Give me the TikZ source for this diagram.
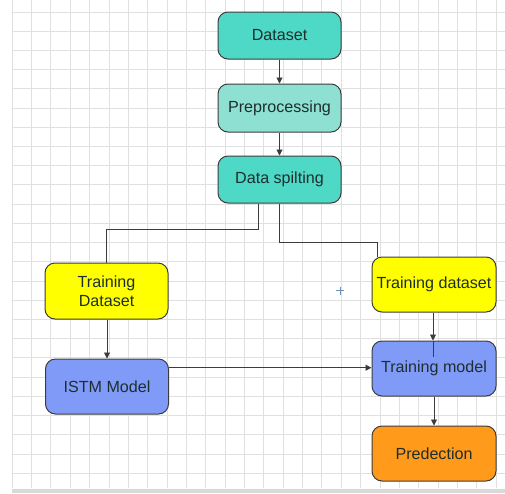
\documentclass[tikz,border=0pt]{standalone}
\usepackage{fontspec}
\setmainfont{Liberation Sans}
\usetikzlibrary{arrows.meta}
\definecolor{teal1}{HTML}{4ED8C6}
\definecolor{teal2}{HTML}{8EE1D2}
\definecolor{yel}{HTML}{FFFF00}
\definecolor{blu}{HTML}{7F9BF7}
\definecolor{org}{HTML}{FF9A1A}
\definecolor{gridc}{HTML}{E0E0E0}
\definecolor{edge}{HTML}{3C3C3C}
\definecolor{txt}{HTML}{1E2E2E}
\tikzset{
  box/.style={draw=edge, line width=1pt, rounded corners=10pt, minimum width=123pt,
    align=center, font=\fontsize{16.1}{18.5}\selectfont, text=txt, inner sep=2pt},
  conn/.style={draw=edge, line width=0.9pt},
  arr/.style={conn, -{Triangle[length=6pt,width=6pt]}}
}
\begin{document}
\begin{tikzpicture}[x=1pt,y=-1pt]
\useasboundingbox (0,0) rectangle (505,493);
% background grid
\fill[white] (0,0) rectangle (505,493);
\foreach \i in {0,...,25} {\draw[gridc, line width=0.6pt] ({12+19.36*\i},0) -- ({12+19.36*\i},488);}
\foreach \j in {0,...,24} {\draw[gridc, line width=0.6pt] (12,{11.8+19.22*\j}) -- (505,{11.8+19.22*\j});}
\fill[gray!30] (12,489) rectangle (505,493);
% crosshair
\draw[color={rgb,255:red,110;green,145;blue,180}, line width=0.7pt] (336,290.5) -- (344,290.5) (340,286.5) -- (340,294.5);
% nodes
\node[box, fill=teal1, minimum height=47pt] (ds) at (279.5,35.5) {Dataset};
\node[box, fill=teal2, minimum height=48pt] (pp) at (279.5,108) {Preprocessing};
\node[box, fill=teal1, minimum height=47pt] (sp) at (279.5,179.5) {Data spilting};
\node[box, fill=yel, minimum height=56pt] (tdl) at (106.5,291) {Training\\Dataset};
\node[box, fill=yel, minimum height=55pt, minimum width=124pt] (tdr) at (434,284.5) {Training dataset};
\node[box, fill=blu, minimum height=55pt] (lstm) at (107,386.5) {ISTM Model};
\node[box, fill=blu, minimum height=55pt, minimum width=124pt] (tm) at (434,368.5) {Training model};
\node[box, fill=org, minimum height=55pt, minimum width=124pt] (pr) at (434,453.5) {Predection};
% connectors
\draw[arr] (ds) -- (pp);
\draw[arr] (pp) -- (sp);
\draw[conn] (sp.south -| 258,0) |- (106.5,229) -- (tdl.north);
\draw[conn] (sp.south -| 279,0) |- (377,242) -- (tdr.north -| 377,0);
\draw[arr] (tdl.south -| 107,0) -- (lstm.north -| 107,0);
\draw[arr] (lstm.east |- 0,367.7) -- (tm.west |- 0,367.7);
\draw[arr] (tdr.south -| 433,0) -- (tm.north -| 433,0);
\draw[conn] (tm.north -| 433,0) -- (433,357);
\draw[arr] (tm.south -| 434,0) -- (pr.north -| 434,0);
\end{tikzpicture}
\end{document}
